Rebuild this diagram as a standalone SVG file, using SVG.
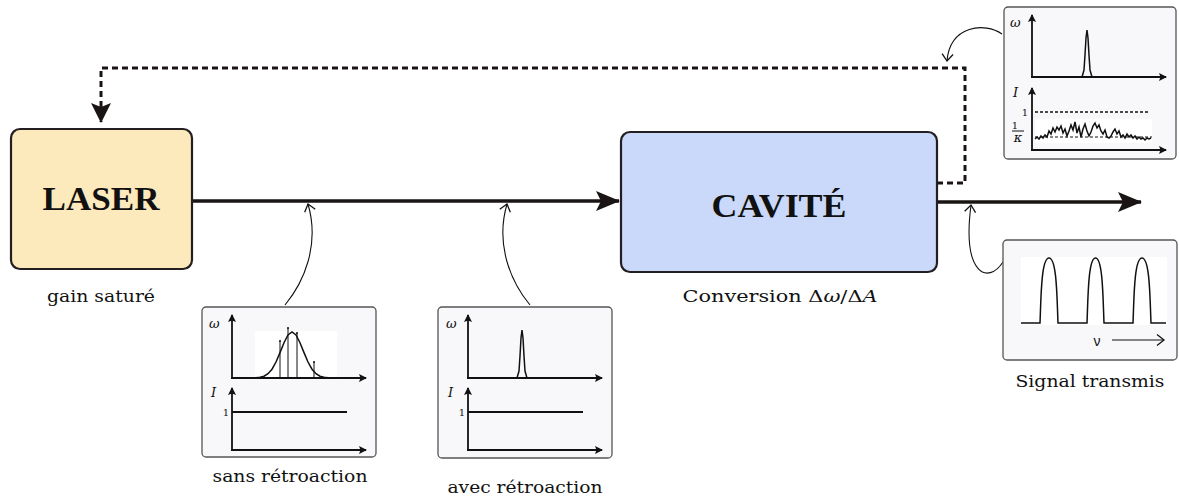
<svg xmlns="http://www.w3.org/2000/svg" width="1179" height="497" viewBox="0 0 1179 497">
<style>
.box{stroke:#231f20;stroke-width:2.2}
.big{font-family:"Liberation Serif","DejaVu Serif",serif;font-weight:bold;font-size:33px;fill:#111;text-anchor:middle}
.lbl{font-family:"DejaVu Serif","Liberation Serif",serif;font-size:16px;fill:#111;text-anchor:middle}
.inset{fill:#f8f8fb;stroke:#555;stroke-width:1.3}
.ax{stroke:#111;stroke-width:1.8;fill:none;marker-end:url(#axh)}
.tr{stroke:#111;stroke-width:1.5;fill:none}
.it{font-family:"DejaVu Serif","Liberation Serif",serif;font-style:italic;font-size:13px;fill:#111}
.num{font-family:"DejaVu Serif","Liberation Serif",serif;font-size:10px;fill:#111;text-anchor:end}
.main{stroke:#1a1414;stroke-width:3.5;fill:none}
.thin{stroke:#111;stroke-width:1.1;fill:none;marker-end:url(#vh)}
</style>
<defs>
<marker id="bigh" markerUnits="userSpaceOnUse" viewBox="0 0 24 20" refX="23" refY="10" markerWidth="24" markerHeight="20" orient="auto">
<path d="M0,0 L24,10 L0,20 L5,10 z" fill="#1a1414"/>
</marker>
<marker id="dh" markerUnits="userSpaceOnUse" viewBox="0 0 20 20" refX="19" refY="10" markerWidth="20" markerHeight="20" orient="auto">
<path d="M0,0 L20,10 L0,20 L4,10 z" fill="#1a1414"/>
</marker>
<marker id="axh" markerUnits="userSpaceOnUse" viewBox="0 0 8 8" refX="7" refY="4" markerWidth="8" markerHeight="8" orient="auto">
<path d="M0,0 L8,4 L0,8 L1.5,4 z" fill="#111"/>
</marker>
<marker id="vh" markerUnits="userSpaceOnUse" viewBox="-8 -7 10 14" refX="0" refY="0" markerWidth="10" markerHeight="14" orient="auto">
<path d="M-7,-5.5 L0,0 L-7,5.5" fill="none" stroke="#111" stroke-width="1.3"/>
</marker>
</defs>
<rect width="1179" height="497" fill="#fff"/>

<g id="connectors">
<line class="main" x1="193" y1="201" x2="619" y2="201" marker-end="url(#bigh)"/>
<line class="main" x1="937" y1="202" x2="1141" y2="202" marker-end="url(#bigh)"/>
<path d="M937,183 L965,183 L965,68 L101,68 L101,122" fill="none" stroke="#1a1414" stroke-width="3" stroke-dasharray="6 4" marker-end="url(#dh)"/>
<path class="thin" d="M285,305 C304,282 320,245 308,204"/>
<path class="thin" d="M530,305 C511,282 495,245 507,204"/>
<path class="thin" d="M1003,262 C988,285 962,275 971,205"/>
<path class="thin" d="M1002,34 C985,22 950,25 947,61"/>
</g>

<g id="laser">
<rect class="box" x="11" y="129" width="181" height="140" rx="9" fill="#fce9bc"/>
<text class="big" x="101" y="210" textLength="117" lengthAdjust="spacingAndGlyphs">LASER</text>
<text class="lbl" x="101" y="302" textLength="108" lengthAdjust="spacingAndGlyphs">gain saturé</text>
</g>

<g id="cavite">
<rect class="box" x="621" y="132" width="316" height="140" rx="9" fill="#cad9f9"/>
<text class="big" x="779" y="217" textLength="135" lengthAdjust="spacingAndGlyphs">CAVITÉ</text>
<text class="lbl" x="780" y="302" textLength="195" lengthAdjust="spacingAndGlyphs">Conversion Δ<tspan font-style="italic">ω</tspan>/Δ<tspan font-style="italic">A</tspan></text>
</g>

<g id="inset-feedback">
<rect class="inset" x="1004" y="7" width="172" height="152" rx="4"/>
<line class="ax" x1="1032" y1="77" x2="1032" y2="15"/>
<line class="ax" x1="1031" y1="77" x2="1166" y2="77"/>
<text class="it" x="1010" y="27">ω</text>
<polyline class="tr" points="1082,77 1084,70 1085,55 1086,38 1087,30 1088,38 1089,55 1090,70 1092,77"/>
<line class="ax" x1="1032" y1="150" x2="1032" y2="88"/>
<line class="ax" x1="1031" y1="150" x2="1166" y2="150"/>
<text class="it" x="1013" y="97" font-size="14">I</text>
<text class="num" x="1028" y="116">1</text>
<line x1="1035" y1="112" x2="1148" y2="112" stroke="#111" stroke-width="1.3" stroke-dasharray="3 2"/>
<text class="num" x="1018" y="129" text-anchor="middle" font-size="11">1</text>
<line x1="1012" y1="131" x2="1024" y2="131" stroke="#111" stroke-width="1"/>
<text class="it" x="1018" y="142" font-size="12" text-anchor="middle">κ</text>
<rect x="1035" y="119" width="117" height="24" fill="#fff"/>
<line x1="1035" y1="137" x2="1152" y2="137" stroke="#111" stroke-width="1" stroke-dasharray="3 2"/>
<polyline class="tr" stroke-width="1.4" points="1035,139 1037,137 1039,139 1041,136 1043,138 1045,135 1047,137 1049,131 1051,134 1053,128 1055,132 1057,127 1059,130 1061,126 1063,133 1065,129 1067,136 1069,131 1071,125 1073,130 1075,122 1077,133 1079,127 1081,137 1083,129 1085,124 1087,131 1089,136 1091,132 1093,126 1095,123 1097,128 1099,125 1101,131 1103,134 1105,130 1107,137 1109,138 1111,136 1113,132 1115,129 1117,134 1119,131 1121,137 1123,135 1125,138 1127,134 1129,137 1131,135 1133,138 1135,136 1137,139 1139,137 1141,139 1143,138 1145,140 1147,138 1149,139 1151,138"/>
</g>

<g id="inset-sans">
<rect class="inset" x="202" y="307" width="174" height="150" rx="4"/>
<rect x="255" y="331" width="82" height="47" fill="#fff"/>
<line class="ax" x1="232" y1="378" x2="232" y2="315"/>
<line class="ax" x1="231" y1="378" x2="366" y2="378"/>
<text class="it" x="209" y="328">ω</text>
<polyline class="tr" points="256,377.8 260,377.3 264,376.2 268,373.7 272,369.2 276,362 280,352.6 284,342.7 288,334.9 292,332 296,334.9 300,342.7 304,352.6 308,362 312,369.2 316,373.7 320,376.2 324,377.3 328,377.8"/>
<g stroke="#111" stroke-width="1">
<line x1="280" y1="378" x2="280" y2="341"/>
<line x1="288" y1="378" x2="288" y2="328"/>
<line x1="297" y1="378" x2="297" y2="333"/>
<line x1="314" y1="378" x2="314" y2="362"/>
</g>
<g fill="#111"><circle cx="280" cy="341" r="1"/><circle cx="288" cy="328" r="1"/><circle cx="297" cy="333" r="1"/><circle cx="314" cy="362" r="1"/></g>
<line class="ax" x1="232" y1="450" x2="232" y2="388"/>
<line class="ax" x1="231" y1="450" x2="366" y2="450"/>
<text class="it" x="211" y="397" font-size="14">I</text>
<text class="num" x="229" y="416">1</text>
<line x1="232" y1="412" x2="347" y2="412" stroke="#111" stroke-width="1.8"/>
</g>

<g id="inset-avec">
<rect class="inset" x="438" y="307" width="174" height="151" rx="4"/>
<line class="ax" x1="468" y1="378" x2="468" y2="315"/>
<line class="ax" x1="467" y1="378" x2="602" y2="378"/>
<text class="it" x="446" y="328">ω</text>
<polyline class="tr" points="517,378 519,371 520,356 521,338 522,330 523,338 524,356 525,371 527,378"/>
<line class="ax" x1="468" y1="450" x2="468" y2="388"/>
<line class="ax" x1="467" y1="450" x2="602" y2="450"/>
<text class="it" x="448" y="397" font-size="14">I</text>
<text class="num" x="465" y="416">1</text>
<line x1="468" y1="412" x2="583" y2="412" stroke="#111" stroke-width="1.8"/>
</g>

<g id="inset-signal">
<rect class="inset" x="1003" y="240" width="174" height="120" rx="4"/>
<rect x="1021" y="257" width="146" height="68" fill="#fff"/>
<path class="tr" stroke-width="1.3" d="M1021,323 L1040,323 C1041,300 1041,258 1049,258 C1057,258 1057,300 1058,323 L1087,323 C1088,300 1088,258 1095.5,258 C1103,258 1103,300 1104,323 L1133,323 C1134,300 1134,258 1142,258 C1150,258 1150,300 1151,323 L1166,323"/>
<text x="1097" y="346" font-family="Liberation Sans,Arial,sans-serif" font-size="14" fill="#111" text-anchor="middle">ν</text>
<line x1="1112" y1="340" x2="1164" y2="340" stroke="#111" stroke-width="1.2" marker-end="url(#vh)"/>
</g>

<g id="labels">
<text class="lbl" x="1090" y="387" textLength="149" lengthAdjust="spacingAndGlyphs">Signal transmis</text>
<text class="lbl" x="290" y="482" textLength="155" lengthAdjust="spacingAndGlyphs">sans rétroaction</text>
<text class="lbl" x="525" y="493" textLength="155" lengthAdjust="spacingAndGlyphs">avec rétroaction</text>
</g>
</svg>
